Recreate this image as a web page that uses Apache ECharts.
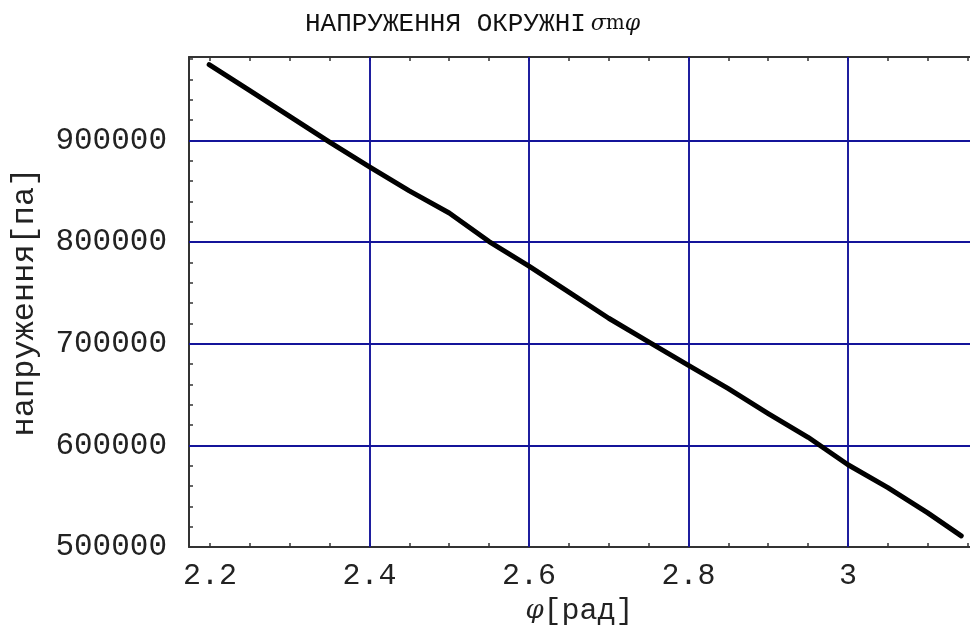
<!DOCTYPE html>
<html>
<head>
<meta charset="utf-8">
<script src="https://cdn.jsdelivr.net/npm/echarts@6/dist/echarts.min.js"></script>
<style>html,body{margin:0;padding:0;background:#fff}#c{width:970px;height:627px}</style>
</head>
<body>
<div id="c"></div>
<script>
const phiValues = [2.199, 2.25, 2.3, 2.35, 2.4, 2.45, 2.5, 2.55, 2.6, 2.65, 2.7, 2.75, 2.8, 2.85, 2.9, 2.95, 3.0, 3.05, 3.1, 3.142];
const stressValues = [974500, 949000, 923600, 898200, 874000, 850300, 828600, 800500, 776300, 750700, 725000, 701800, 678600, 655700, 631300, 607900, 580900, 558400, 533600, 510900];
const xTickLabels = [2.2, 2.4, 2.6, 2.8, 3.0];
const xTicks = [2.2, 2.25, 2.3, 2.35, 2.4, 2.45, 2.5, 2.55, 2.6, 2.65, 2.7, 2.75, 2.8, 2.85, 2.9, 2.95, 3.0, 3.05, 3.1, 3.15];
const yTickLabels = [500000, 600000, 700000, 800000, 900000];
const yTicks = [500000, 520000, 540000, 560000, 580000, 600000, 620000, 640000, 660000, 680000, 700000, 720000, 740000, 760000, 780000, 800000, 820000, 840000, 860000, 880000, 900000, 920000, 940000, 960000, 980000];
const xGrid = [2.4, 2.6, 2.8, 3.0];
const yGrid = [600000, 700000, 800000, 900000];

const mono = 'Liberation Mono';
const axisLineStyle = { color: '#333', width: 2 };
const chart = echarts.init(document.getElementById('c'), null, { renderer: 'canvas' });
const X_MIN = 2.1737, X_MAX = 3.153, Y_MIN = 500000, Y_MAX = 982000;

chart.setOption({
  animation: false,
  backgroundColor: '#fff',
  title: {
    left: 300, top: 6,
    text: '{a|НАПРУЖЕННЯ ОКРУЖНІ} {b|σ}{c|m}{b|φ}',
    textStyle: {
      fontWeight: 'normal',
      rich: {
        a: { fontFamily: mono, fontSize: 26, fontWeight: 'normal', color: '#111' },
        b: { fontFamily: 'DejaVu Serif', fontStyle: 'italic', fontWeight: 'normal', fontSize: 22, color: '#111' },
        c: { fontFamily: 'DejaVu Serif', fontWeight: 'normal', fontSize: 20, color: '#111' }
      }
    }
  },
  grid: { left: 189, top: 57, right: 0, bottom: 80, containLabel: false, outerBoundsMode: 'none' },
  xAxis: [
    {
      type: 'value', position: 'bottom', min: X_MIN, max: X_MAX,
      axisLine: { show: true, onZero: false, lineStyle: axisLineStyle },
      axisTick: { show: true, inside: true, length: 4, customValues: xTicks, lineStyle: { color: '#333', width: 1.5 } },
      axisLabel: {
        customValues: xTickLabels, margin: 14, fontFamily: mono, fontSize: 30, color: '#222',
        formatter: v => (Math.abs(v - 3) < 1e-9 ? '3' : v.toFixed(1))
      },
      splitLine: { show: false },
      name: '{p|φ}{q|[рад]}', nameLocation: 'middle', nameGap: 46,
      nameTextStyle: {
        verticalAlign: 'top',
        rich: {
          p: { fontFamily: 'DejaVu Serif', fontStyle: 'italic', fontSize: 26, color: '#222' },
          q: { fontFamily: mono, fontSize: 30, color: '#222' }
        }
      }
    },
    {
      type: 'value', position: 'top', min: X_MIN, max: X_MAX,
      axisLine: { show: true, onZero: false, lineStyle: axisLineStyle },
      axisTick: { show: true, inside: true, length: 4, customValues: xTicks, lineStyle: { color: '#333', width: 1.5 } },
      axisLabel: { show: false },
      splitLine: { show: false }
    }
  ],
  yAxis: {
    type: 'value', min: Y_MIN, max: Y_MAX,
    axisLine: { show: true, onZero: false, lineStyle: axisLineStyle },
    axisTick: { show: true, inside: true, length: 4, customValues: yTicks, lineStyle: { color: '#333', width: 1.5 } },
    axisLabel: {
      customValues: yTickLabels, margin: 22, fontFamily: mono, fontSize: 31, color: '#222',
      formatter: v => String(Math.round(v))
    },
    splitLine: { show: false },
    name: 'напруження[па]', nameLocation: 'middle', nameGap: 148, nameRotate: 90,
    nameTextStyle: { fontFamily: mono, fontSize: 32, color: '#222' }
  },
  series: [
    {
      type: 'line', data: [], silent: true, z: 1,
      markLine: {
        silent: true, symbol: ['none', 'none'], animation: false,
        label: { show: false },
        emphasis: { disabled: true },
        lineStyle: { type: 'solid', color: '#14149a', width: 1.9 },
        data: xGrid.map(v => ({ xAxis: v })).concat(yGrid.map(v => ({ yAxis: v })))
      }
    },
    {
      type: 'line', z: 5, showSymbol: false, smooth: false,
      data: phiValues.map((x, i) => [x, stressValues[i]]),
      lineStyle: { color: '#000', width: 5, cap: 'round', join: 'round' }
    }
  ]
});
</script>
</body>
</html>
